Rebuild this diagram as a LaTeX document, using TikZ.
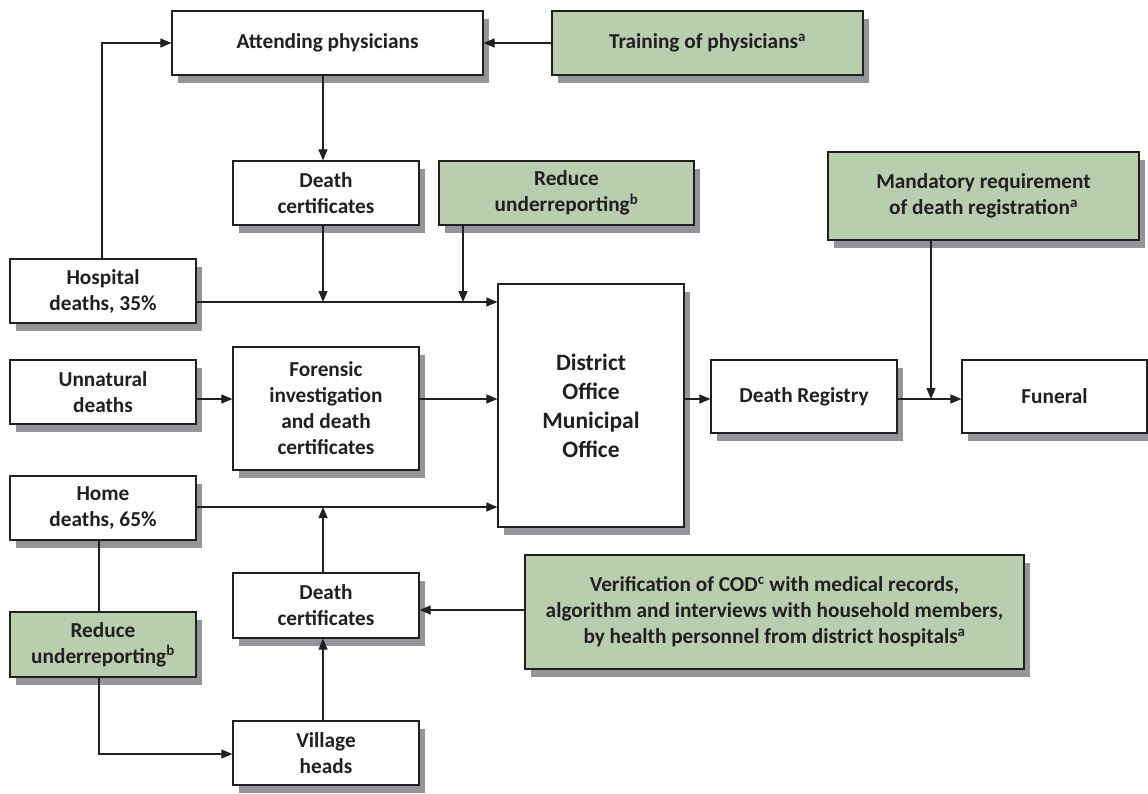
\documentclass[tikz,border=0pt]{standalone}
\usepackage{fontspec}
\setmainfont{Carlito}
\usetikzlibrary{arrows.meta,shadows,calc}
\definecolor{boxgreen}{RGB}{185,206,175}
\definecolor{shgray}{RGB}{147,149,152}
\definecolor{ink}{RGB}{35,31,32}
\begin{document}
\begin{tikzpicture}[x=1pt,y=-1pt,
  every node/.style={font=\bfseries\fontsize{21.3}{26}\selectfont, text=ink},
  box/.style={draw=ink, line width=1.2pt, fill=white, align=center, inner sep=0pt,
    drop shadow={shadow xshift=6pt, shadow yshift=-8pt, fill=shgray, opacity=1}},
  gbox/.style={box, fill=boxgreen},
  conn/.style={draw=ink, line width=1.1pt},
  arr/.style={conn, -{Triangle[length=11pt,width=9pt]}}
]
\useasboundingbox (0,0) rectangle (1148,793);

\newcommand{\bx}[7]{% style, name, x1, y1, x2, y2, text
  \node[#1, minimum width={#5-#3}, minimum height={#6-#4}] (#2) at ({(#3+#5)/2},{(#4+#6)/2}) {#7};}

\bx{box}{att}{172}{11}{483}{75}{Attending physicians}
\bx{gbox}{train}{552}{11}{863}{75}{Training of physicians\textsuperscript{a}}
\bx{box}{dca}{233}{161}{419}{225}{Death\\certificates}
\bx{gbox}{reda}{439}{161}{694}{225}{Reduce\\underreporting\textsuperscript{b}}
\bx{gbox}{mand}{828}{152}{1139}{240}{Mandatory requirement\\of death registration\textsuperscript{a}}
\bx{box}{hosp}{10}{259}{196}{323}{Hospital\\deaths, 35\%}
\bx{box}{unnat}{10}{360}{196}{424}{Unnatural\\deaths}
\bx{box}{foren}{233}{347}{419}{470}{Forensic\\investigation\\and death\\certificates}
\node[box, minimum width=186, minimum height=243, font=\bfseries\fontsize{23.5}{29}\selectfont] (dist) at (591,405.5) {District\\Office\\Municipal\\Office};
\bx{box}{reg}{711}{360}{897}{433}{Death Registry}
\bx{box}{fun}{962}{360}{1147}{433}{Funeral}
\bx{box}{home}{10}{476}{196}{540}{Home\\deaths, 65\%}
\bx{gbox}{redb}{10}{612}{196}{677}{Reduce\\underreporting\textsuperscript{b}}
\bx{box}{dcb}{233}{573}{419}{638}{Death\\certificates}
\bx{box}{vil}{233}{721}{419}{785}{Village\\heads}
\bx{gbox}{verif}{525}{555}{1024}{669}{Verification of COD\textsuperscript{c} with medical records,\\algorithm and interviews with household members,\\by health personnel from district hospitals\textsuperscript{a}}

\coordinate (cx) at (323,0);
\coordinate (rx) at (463,0);
\coordinate (mx) at (931,0);
\coordinate (hx) at (102,0);
\coordinate (bx) at (99,0);
\coordinate (y1) at (0,302);
\coordinate (y2) at (0,399);
\coordinate (y3) at (0,507);
\coordinate (y4) at (0,610);
\coordinate (y5) at (0,754);

% top
\draw[arr] (hosp.north -| hx) |- (att.west);
\draw[arr] (train.west) -- (att.east);
\draw[arr] (att.south -| cx) -- (dca.north -| cx);
% hospital row
\draw[arr] (hosp.east |- y1) -- (dist.west |- y1);
\draw[arr] (dca.south -| cx) -- (cx |- y1);
\draw[arr] (reda.south -| rx) -- (rx |- y1);
% middle row
\draw[arr] (unnat.east |- y2) -- (foren.west |- y2);
\draw[arr] (foren.east |- y2) -- (dist.west |- y2);
\draw[arr] (dist.east |- y2) -- (reg.west |- y2);
\draw[arr] (reg.east |- y2) -- (fun.west |- y2);
\draw[arr] (mand.south -| mx) -- (mx |- y2);
% home row
\draw[arr] (home.east |- y3) -- (dist.west |- y3);
\draw[arr] (dcb.north -| cx) -- (cx |- y3);
\draw[arr] (vil.north -| cx) -- (dcb.south -| cx);
\draw[arr] (verif.west |- y4) -- (dcb.east |- y4);
\draw[conn] (home.south -| bx) -- (redb.north -| bx);
\draw[arr] (redb.south -| bx) |- (vil.west |- y5);
\end{tikzpicture}
\end{document}
